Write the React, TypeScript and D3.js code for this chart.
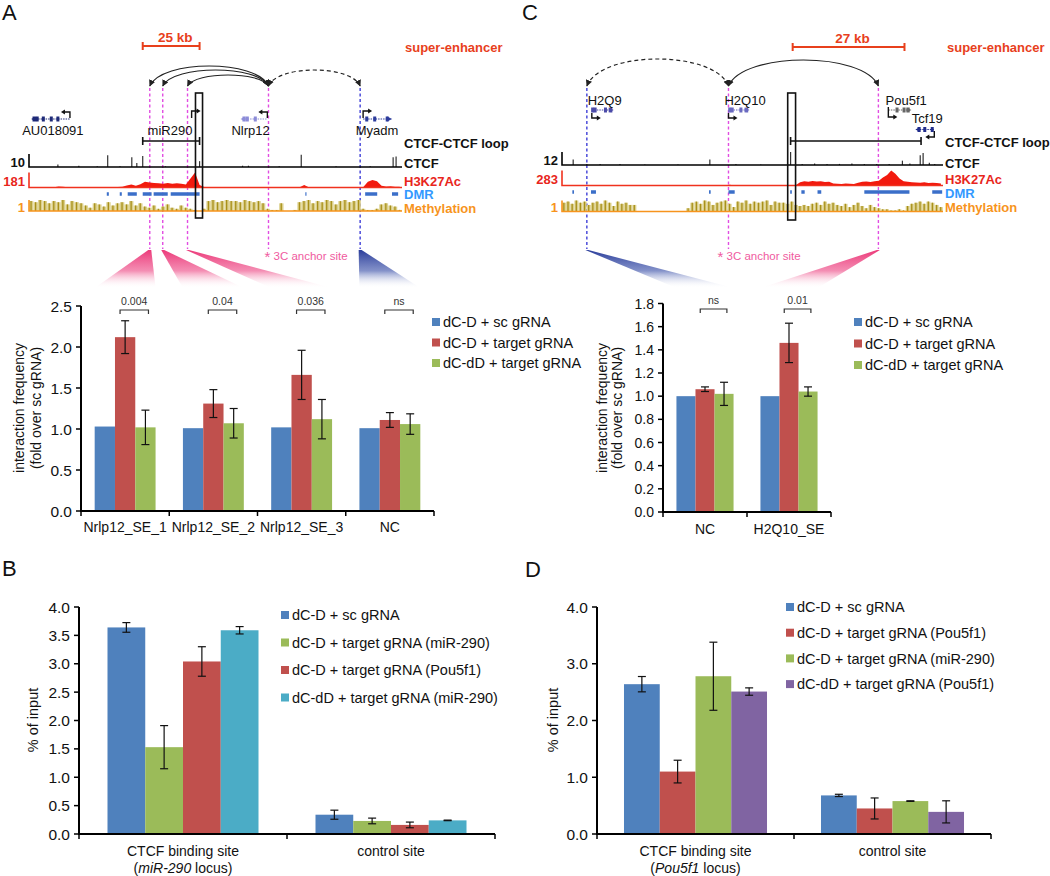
import React from 'react';
import * as d3 from 'd3';

const FONT = '"Liberation Sans", Arial, Helvetica, sans-serif';

const BLUE = '#4F81BD';
const RED = '#C0504D';
const GREEN = '#9BBB59';
const CYAN = '#4BACC6';
const PURPLE = '#8064A2';
const SE_RED = '#E8401C';
const PINK = '#E24CE2';
const NC_BLUE = '#3F3FD8';

// ---------------- panel A : miR290 / Nlrp12 locus (kb from left edge of browser window)
const aSpanKb = 164;
const aScaleKb = [50, 75];
const aAnchorKb = 105.3;
const aTargetKb = [53.1, 58.8, 69.7];
const aNcKb = 145.6;
const aCtcfSiteKb = [73.2, 76.3];
const aLoopKb = [50, 75];
const aGeneName = ['AU018091', 'miR290', 'Nlrp12', 'Myadm'];
const aGeneStart = [1.8, 71.5, 93.9, 146.9];
const aGeneEnd = [18.0, 71.5, 104.8, 158.8];
const aGeneStrand = [-1, 1, -1, 1];
const aGeneLabelKb = [10.5, 62, 97.4, 153];
const aGeneExons = [[2.2, 3.6, 6.3, 9.8, 12.7], [], [94.5, 96, 99.5], [148.5, 152, 157.5]];
const aCtcfKb = [12.7, 21.9, 30, 34.6, 40, 45.2, 47.4, 50, 60, 75, 93.9, 96.5, 110, 119.7, 135, 150, 160.1, 161.4];
const aCtcfVal = [2, 1, 0.5, 9, 0.5, 7.5, 3, 8.5, 0.5, 4.5, 1, 1, 0.5, 9.5, 0.5, 0.5, 7.5, 8];
const aH3 = [
  2, 2, 3, 2, 2, 3, 12, 10, 3, 2, 2, 3, 2, 2, 3, 2, 3, 4, 3, 5, 8,
  25, 35, 20, 40, 70, 60, 55, 50, 45, 55, 45, 50, 45, 35, 110, 181, 30, 5,
  3, 2, 3, 2, 2, 3, 2, 4, 3, 2, 2, 3, 2, 3, 2, 2, 3, 4, 2, 3, 4, 30,
  3, 2, 2, 3, 2, 2, 3, 2, 2, 3, 3, 4, 5, 70, 90, 75, 20, 12, 15, 10, 8,
];
const aDmrStart = [34.2, 39.9, 43.4, 50.0, 54.8, 62.3, 121.5, 147.8, 159.6];
const aDmrEnd = [35.1, 40.8, 47.4, 53.9, 61.0, 75.0, 122.0, 153.1, 162.3];
const aMeth = [
  9, 8, 10, 9, 7, 9, 8, 10, 6, 9, 8, 7, 5, 3, 7, 6, 4, 8, 5, 7, 8, 6, 9, 5, 7, 4,
  3, 5, 2, 4, 6, 3, 2, 5, 3, 2, 1, 0, 2, 9, 10, 8, 9, 10, 9, 9, 8, 10, 9, 8, 9, 7,
  2, 1, 1, 7, 0, 0, 1, 8, 9, 10, 7, 9, 8, 10, 9, 6, 9, 10, 8, 9, 10, 2, 1, 1, 2, 6, 7, 5, 4, 1,
];

// ---------------- panel C : H2Q10 / Pou5f1 locus
const cSpanKb = 92;
const cScaleKb = [55.7, 82.7];
const cAnchorKb = 40.2;
const cNcKb = 6.0;
const cTargetKb = 76.4;
const cCtcfSiteKb = [54.5, 56.4];
const cLoopKb = [55.2, 86.7];
const cGeneName = ['H2Q9', 'H2Q10', 'Pou5f1', 'Tcf19'];
const cGeneStart = [7.2, 40.2, 78.8, 85.8];
const cGeneEnd = [12.0, 44.8, 83.9, 89.9];
const cGeneStrand = [1, 1, 1, -1];
const cGeneLabelKb = [10.3, 44.2, 83.1, 88.2];
const cGeneExons = [[7.4, 8.0, 10.5, 11.8], [40.5, 41.1, 43.2, 44.6], [80.9, 82.6, 83.6], [86.2, 87.6, 89.4]];
const cCtcfKb = [2.7, 6, 9.2, 14, 20, 28, 35.7, 42, 48, 55.2, 58, 61, 64, 67, 70, 73, 76, 79, 82.2, 84, 86.5, 87.2, 88.7, 90];
const cCtcfVal = [5, 1, 1, 1, 0.5, 0.5, 5, 1, 0.5, 12, 1, 1.5, 1, 1, 1.5, 1, 1, 1, 4, 1.5, 9, 11, 2, 1];
const cH3 = [
  3, 2, 2, 3, 4, 2, 3, 2, 2, 3, 2, 3, 2, 2, 4, 3, 2, 2, 3, 2,
  2, 3, 2, 2, 3, 2, 4, 3, 2, 2, 3, 2, 2, 3, 2, 5, 3, 2, 3, 4,
  12, 4, 3, 2, 3, 2, 3, 2, 3, 4, 3, 2, 3, 4, 5, 6,
  10, 60, 80, 70, 85, 75, 80, 65, 70, 40, 35, 30, 40, 35, 30, 50, 70, 75, 65, 80,
  90, 150, 200, 283, 220, 130, 80, 70, 60, 55, 50, 60, 45, 50, 45, 40,
];
const cDmrStart = [2.5, 7.0, 35.5, 40.2, 55.1, 57.8, 61.7, 73.0, 89.4];
const cDmrEnd = [2.9, 8.2, 35.9, 41.7, 55.5, 58.6, 62.6, 83.9, 91.8];
const cMeth = [
  8, 9, 7, 10, 8, 9, 6, 8, 9, 7, 10, 8, 5, 9, 7, 8, 6, 6,
  0, 0, 0, 0, 0, 0, 0, 0, 0, 0, 0, 0, 3,
  8, 9, 7, 10, 9, 6, 8, 9, 10, 7, 4, 9, 8, 10, 7, 9, 8, 9, 10, 6, 9, 8,
  8, 7, 9, 6, 5, 6, 5, 7, 8, 6, 9, 7, 8, 6, 5, 7, 4, 6, 8, 5, 3, 6, 4,
  3, 2, 2, 1, 1, 2, 1, 5, 7, 8, 9, 7, 9, 8, 6, 4,
];

// ---------------- 3C bar charts
const a3cSites = ['Nrlp12_SE_1', 'Nrlp12_SE_2', 'Nrlp12_SE_3', 'NC'];
const a3cScMean = [1.03, 1.01, 1.02, 1.01];
const a3cTgtMean = [2.12, 1.31, 1.66, 1.11];
const a3cTgtErr = [0.2, 0.17, 0.3, 0.09];
const a3cDeadMean = [1.02, 1.07, 1.12, 1.06];
const a3cDeadErr = [0.21, 0.18, 0.24, 0.125];
const a3cPval = ['0.004', '0.04', '0.036', 'ns'];

const c3cSites = ['NC', 'H2Q10_SE'];
const c3cScMean = [1.0, 1.0];
const c3cTgtMean = [1.06, 1.46];
const c3cTgtErr = [0.02, 0.17];
const c3cDeadMean = [1.02, 1.04];
const c3cDeadErr = [0.1, 0.04];
const c3cPval = ['ns', '0.01'];

const series3c = ['dC-D + sc gRNA', 'dC-D + target gRNA', 'dC-dD + target gRNA'];

// ---------------- ChIP bar charts
const chipSites = ['CTCF binding site', 'control site'];
const bLocus = 'miR-290';
const dLocus = 'Pou5f1';
const bNames = ['dC-D + sc gRNA', 'dC-D + target gRNA (miR-290)', 'dC-D + target gRNA (Pou5f1)', 'dC-dD + target gRNA (miR-290)'];
const bScMean = [3.64, 0.34];
const bScErr = [0.085, 0.08];
const bMirMean = [1.53, 0.23];
const bMirErr = [0.38, 0.05];
const bPouMean = [3.04, 0.16];
const bPouErr = [0.26, 0.05];
const bDeadMean = [3.59, 0.24];
const bDeadErr = [0.065, 0.005];

const dNames = ['dC-D + sc gRNA', 'dC-D + target gRNA (Pou5f1)', 'dC-D + target gRNA (miR-290)', 'dC-dD + target gRNA (Pou5f1)'];
const dScMean = [2.64, 0.68];
const dScErr = [0.135, 0.02];
const dPouMean = [1.1, 0.45];
const dPouErr = [0.2, 0.185];
const dMirMean = [2.78, 0.58];
const dMirErr = [0.6, 0.005];
const dDeadMean = [2.51, 0.39];
const dDeadErr = [0.065, 0.195];

type Series = { name: string; color: string; mean: number[]; err?: number[] };

function groupSpan(xs: d3.ScaleBand<string>, cat: string, frac: number) {
  const bw = xs.bandwidth();
  const l = xs(cat)! + (bw * (1 - frac)) / 2;
  return [l, l + bw * frac];
}

function BarPanel(p: {
  xs: d3.ScaleBand<string>; ys: d3.ScaleLinear<number, number>; step: number; series: Series[];
  frac: number; yTitle: string[]; yTitleX: number[]; yTitleY: number; tickFont: number;
  legX: number; legY: number; legDy: number; labelY: number;
  pval?: string[]; bracketY?: number; locus?: string;
}) {
  const { xs, ys, series } = p;
  const cats = xs.domain();
  const [x0, x1] = xs.range();
  const yb = ys.range()[0];
  const yMax = ys.domain()[1];
  const n = series.length;
  const barW = (xs.bandwidth() * p.frac) / n;
  const ticks = d3.range(0, yMax + p.step / 2, p.step);
  const fmt = d3.format('.1f');
  const bounds = d3.range(cats.length + 1).map(i => x0 + i * xs.step());
  return (
    <g>
      {cats.map((c, i) => {
        const gl = groupSpan(xs, c, p.frac)[0];
        return series.map((s, j) => {
          const bx = gl + j * barW;
          const v = s.mean[i];
          const cx = bx + barW / 2;
          return (
            <g key={c + j}>
              <rect x={bx} y={ys(v)} width={barW} height={yb - ys(v)} fill={s.color} />
              {s.err && (
                <g stroke="#111" strokeWidth={1.2}>
                  <line x1={cx} x2={cx} y1={ys(v - s.err[i])} y2={ys(v + s.err[i])} />
                  <line x1={cx - 4} x2={cx + 4} y1={ys(v - s.err[i])} y2={ys(v - s.err[i])} />
                  <line x1={cx - 4} x2={cx + 4} y1={ys(v + s.err[i])} y2={ys(v + s.err[i])} />
                </g>
              )}
            </g>
          );
        });
      })}
      {p.pval && cats.map((c, i) => {
        const gl = groupSpan(xs, c, p.frac)[0];
        const l = gl + barW * 1.25;
        const r = gl + barW * 2.65;
        const by = p.bracketY!;
        return (
          <g key={'pv' + c}>
            <path d={`M${l},${by + 4}V${by}H${r}V${by + 4}`} fill="none" stroke="#333" strokeWidth={1.2} />
            <text x={(l + r) / 2} y={by - 5} textAnchor="middle" fontSize={10.5} fill="#333">{p.pval![i]}</text>
          </g>
        );
      })}
      {/* axes */}
      <line x1={x0} x2={x0} y1={yb} y2={ys(yMax)} stroke="#000" strokeWidth={2} />
      <line x1={x0 - 1} x2={x1} y1={yb} y2={yb} stroke="#000" strokeWidth={2} />
      {ticks.map(t => (
        <g key={'t' + t}>
          <line x1={x0 - 5} x2={x0} y1={ys(t)} y2={ys(t)} stroke="#000" strokeWidth={1.5} />
          <text x={x0 - 9} y={ys(t)} dy="0.36em" textAnchor="end" fontSize={p.tickFont} fill="#111">{fmt(t)}</text>
        </g>
      ))}
      {bounds.map((b, i) => (
        <line key={'b' + i} x1={b} x2={b} y1={yb} y2={yb + 5} stroke="#000" strokeWidth={1.5} />
      ))}
      {cats.map(c => (
        <g key={'l' + c}>
          <text x={xs(c)! + xs.bandwidth() / 2} y={p.labelY} textAnchor="middle" fontSize={14} fill="#111">{c}</text>
          {p.locus && c === cats[0] && (
            <text x={xs(c)! + xs.bandwidth() / 2} y={p.labelY + 17} textAnchor="middle" fontSize={14} fill="#111">
              (<tspan fontStyle="italic">{p.locus}</tspan> locus)
            </text>
          )}
        </g>
      ))}
      {p.yTitle.map((t, i) => (
        <text key={t} transform={`translate(${p.yTitleX[i]},${p.yTitleY}) rotate(-90)`} dy="0.35em"
          textAnchor="middle" fontSize={p.yTitle.length > 1 ? 14 : 14.5} fill="#111">{t}</text>
      ))}
      {series.map((s, j) => (
        <g key={'lg' + j}>
          <rect x={p.legX} y={p.legY + j * p.legDy - 4} width={8} height={8} fill={s.color} />
          <text x={p.legX + 11} y={p.legY + j * p.legDy} dy="0.36em" fontSize={14.5} fill="#111">{s.name}</text>
        </g>
      ))}
    </g>
  );
}

type GeneRow = { y: number; labelY: number; a0: number; a1: number; color: string };

function Genes(p: {
  xs: d3.ScaleLinear<number, number>; names: string[]; start: number[]; end: number[];
  strand: number[]; labelKb: number[]; exons: number[][]; rows: GeneRow[];
}) {
  const { xs } = p;
  return (
    <g>
      {p.names.map((nm, i) => {
        const row = p.rows[i];
        const dir = p.strand[i];
        const tx = xs(dir > 0 ? p.start[i] : p.end[i]);
        const ex = xs(dir > 0 ? p.end[i] : p.start[i]);
        const hasBody = p.end[i] > p.start[i];
        return (
          <g key={nm}>
            {hasBody && (
              <g>
                <line x1={xs(p.start[i])} x2={xs(p.end[i])} y1={row.y} y2={row.y} stroke={row.color} strokeWidth={1} strokeDasharray="1.5,1" />
                {p.exons[i].map(e => (
                  <rect key={e} x={xs(e) - 1.5} y={row.y - 2.5} width={3} height={5} fill={row.color} />
                ))}
                <path d={`M${ex + dir * 2},${row.y} L${ex - dir * 3},${row.y - 2.5} L${ex - dir * 3},${row.y + 2.5}Z`} fill={row.color} />
              </g>
            )}
            <path d={`M${tx},${row.a0}V${row.a1}H${tx + dir * 6}`} fill="none" stroke="#111" strokeWidth={1.4} />
            <path d={`M${tx + dir * 9},${row.a1} L${tx + dir * 5},${row.a1 - 2.5} L${tx + dir * 5},${row.a1 + 2.5}Z`} fill="#111" />
            <text x={xs(p.labelKb[i])} y={row.labelY} textAnchor="middle" fontSize={13} fill="#111">{nm}</text>
          </g>
        );
      })}
    </g>
  );
}

function Tracks(p: {
  xs: d3.ScaleLinear<number, number>; labelX: number;
  ctcfKb: number[]; ctcfVal: number[]; ctcfMax: number; ctcfBase: number;
  h3: number[]; h3Bin: number; h3Max: number; h3Base: number;
  dmrStart: number[]; dmrEnd: number[]; dmrY: number;
  meth: number[]; methBin: number; methBase: number;
  loopKb: number[]; loopY: number; labelYs: number[];
}) {
  const { xs } = p;
  const [x0, x1] = xs.range();
  const cy = d3.scaleLinear().domain([0, p.ctcfMax]).range([p.ctcfBase, p.ctcfBase - 13]);
  const hy = d3.scaleLinear().domain([0, p.h3Max]).range([p.h3Base, p.h3Base - 15]);
  const my = d3.scaleLinear().domain([0, 10]).range([p.methBase, p.methBase - 11]);
  const area = d3.area<number>()
    .x((d, i) => xs((i + 0.5) * p.h3Bin))
    .y0(p.h3Base)
    .y1(d => hy(d));
  const mw = xs(p.methBin) - xs(0);
  const lab = { fontSize: 13, fontWeight: 700 } as const;
  return (
    <g>
      {/* CTCF-CTCF loop */}
      <path d={`M${xs(p.loopKb[0])},${p.loopY - 4}v8M${xs(p.loopKb[0])},${p.loopY}H${xs(p.loopKb[1])}M${xs(p.loopKb[1])},${p.loopY - 4}v8`}
        fill="none" stroke="#111" strokeWidth={1.6} />
      {/* CTCF */}
      {p.ctcfKb.map((k, i) => (
        <line key={'c' + i} x1={xs(k)} x2={xs(k)} y1={p.ctcfBase} y2={cy(p.ctcfVal[i])} stroke="#333" strokeWidth={1.2} />
      ))}
      <path d={`M${x0},${cy(p.ctcfMax)}V${p.ctcfBase}H${x1}`} fill="none" stroke="#000" strokeWidth={1.6} />
      {/* H3K27Ac */}
      <path d={area(p.h3) ?? ''} fill="#F21A0E" />
      <path d={`M${x0},${hy(p.h3Max)}V${p.h3Base}H${x1}`} fill="none" stroke="#F0321E" strokeWidth={1.6} />
      {/* DMR */}
      {p.dmrStart.map((s, i) => (
        <rect key={'d' + i} x={xs(s)} y={p.dmrY - 1.75} width={Math.max(1, xs(p.dmrEnd[i]) - xs(s))} height={3.5} fill="#3B6FC9" />
      ))}
      {/* Methylation */}
      {p.meth.map((v, i) => (
        <g key={'m' + i}>
          <rect x={xs(i * p.methBin)} y={my(v)} width={mw * 0.95} height={p.methBase - my(v)} fill="#DCD08C" />
          <line x1={xs(i * p.methBin) + mw * 0.45} x2={xs(i * p.methBin) + mw * 0.45} y1={p.methBase} y2={my(v)}
            stroke="#A8901A" strokeWidth={1.3} />
        </g>
      ))}
      <path d={`M${x0},${my(10)}V${p.methBase}H${x1}`} fill="none" stroke="#F7941D" strokeWidth={1.6} />
      {/* left scale numbers */}
      <text x={x0 - 4} y={p.ctcfBase - 5} dy="0.36em" textAnchor="end" {...lab} fill="#111">{p.ctcfMax}</text>
      <text x={x0 - 4} y={p.h3Base - 6} dy="0.36em" textAnchor="end" {...lab} fill="#E8261C">{p.h3Max}</text>
      <text x={x0 - 4} y={p.methBase - 4} dy="0.36em" textAnchor="end" {...lab} fill="#F7941D">1</text>
      {/* right labels */}
      <text x={p.labelX} y={p.labelYs[0]} dy="0.36em" {...lab} fill="#111">CTCF-CTCF loop</text>
      <text x={p.labelX} y={p.labelYs[1]} dy="0.36em" {...lab} fill="#111">CTCF</text>
      <text x={p.labelX} y={p.labelYs[2]} dy="0.36em" {...lab} fill="#E8261C">H3K27Ac</text>
      <text x={p.labelX} y={p.labelYs[3]} dy="0.36em" {...lab} fill="#3399FF">DMR</text>
      <text x={p.labelX} y={p.labelYs[4]} dy="0.36em" {...lab} fill="#F7941D">Methylation</text>
    </g>
  );
}

function arcPath(xa: number, xb: number, y: number, top: number) {
  const c = y + (top - y) / 0.75;
  const dx = (xb - xa) * 0.1;
  return `M${xa},${y} C${xa + dx},${c} ${xb - dx},${c} ${xb},${y}`;
}

function ScaleBar({ x0, x1, y, label }: { x0: number; x1: number; y: number; label: string }) {
  return (
    <g>
      <path d={`M${x0},${y - 4}v8M${x0},${y}H${x1}M${x1},${y - 4}v8`} fill="none" stroke={SE_RED} strokeWidth={2} />
      <text x={(x0 + x1) / 2 + 4} y={y - 4} textAnchor="middle" fontSize={13.5} fontWeight={700} fill={SE_RED}>{label}</text>
    </g>
  );
}

function VLine({ x, color }: { x: number; color: string }) {
  return <line x1={x} x2={x} y1={88} y2={249} stroke={color} strokeWidth={1.4} strokeDasharray="3,2.5" />;
}

function AnchorText({ x }: { x: number }) {
  return (
    <text x={x} y={260} fontSize={11.5} fill="#F05AA0">
      <tspan fontSize={15} dy="2">*</tspan><tspan dy="-2"> 3C anchor site</tspan>
    </text>
  );
}

function Fan({ apex, span, grad }: { apex: number; span: number[]; grad: string }) {
  return <polygon points={`${apex - 1.5},250 ${apex + 1.5},250 ${span[1]},288 ${span[0]},288`} fill={`url(#${grad})`} />;
}

export default function App() {
  const aKb = d3.scaleLinear().domain([0, aSpanKb]).range([29, 402]);
  const cKb = d3.scaleLinear().domain([0, cSpanKb]).range([562, 943]);

  const aX = d3.scaleBand<string>().domain(a3cSites).range([81, 434]);
  const aY = d3.scaleLinear().domain([0, 2.5]).range([511, 306]);
  const cX = d3.scaleBand<string>().domain(c3cSites).range([663, 831]);
  const cY = d3.scaleLinear().domain([0, 1.8]).range([512, 303.5]);
  const bX = d3.scaleBand<string>().domain(chipSites).range([79, 495]);
  const bY = d3.scaleLinear().domain([0, 4]).range([834, 607]);
  const dX = d3.scaleBand<string>().domain(chipSites).range([597, 991]);
  const dY = d3.scaleLinear().domain([0, 4]).range([834, 607]);

  const aFrac = 0.69, cFrac = 0.68, chipFrac = 0.726;

  const aRows: GeneRow[] = [
    { y: 119, labelY: 134.5, a0: 118, a1: 112, color: '#1E2A78' },
    { y: 119, labelY: 134.5, a0: 118, a1: 111, color: '#1E2A78' },
    { y: 119, labelY: 134.5, a0: 118, a1: 112, color: '#8C8CD8' },
    { y: 119, labelY: 134.5, a0: 118, a1: 111, color: '#2D3C9C' },
  ];
  const cRows: GeneRow[] = [
    { y: 110, labelY: 104.5, a0: 113, a1: 118, color: '#4B4BA8' },
    { y: 110, labelY: 104.5, a0: 113, a1: 118, color: '#6A6AC0' },
    { y: 110, labelY: 104.5, a0: 107, a1: 117, color: '#666' },
    { y: 129.5, labelY: 122.5, a0: 131, a1: 137, color: '#202C8C' },
  ];

  const aTargetX = aTargetKb.map(k => aKb(k));
  const arcY = 86;

  return (
    <svg width={1050} height={876} style={{ position: 'absolute', left: 0, top: 0, background: '#fff' }}
      fontFamily={FONT}>
      <defs>
        <marker id="ah" viewBox="0 0 10 10" refX="9" refY="5" markerWidth="5.5" markerHeight="5.5" orient="auto-start-reverse">
          <path d="M0,0 L10,5 L0,10 z" fill="#222" />
        </marker>
        <linearGradient id="pinkFan" x1="0" y1="0" x2="0" y2="1">
          <stop offset="0" stopColor="#EC3A7A" />
          <stop offset="0.55" stopColor="#F27AA6" stopOpacity="0.85" />
          <stop offset="1" stopColor="#FFFFFF" stopOpacity="0" />
        </linearGradient>
        <linearGradient id="blueFan" x1="0" y1="0" x2="0" y2="1">
          <stop offset="0" stopColor="#2B3E9B" />
          <stop offset="0.55" stopColor="#6F7FC0" stopOpacity="0.85" />
          <stop offset="1" stopColor="#FFFFFF" stopOpacity="0" />
        </linearGradient>
      </defs>

      {/* panel letters */}
      <text x={2} y={19.5} fontSize={22} fill="#111">A</text>
      <text x={522} y={19.5} fontSize={22} fill="#111">C</text>
      <text x={2} y={576} fontSize={22} fill="#111">B</text>
      <text x={525} y={577} fontSize={22} fill="#111">D</text>

      {/* ---------- panel A locus ---------- */}
      <ScaleBar x0={aKb(aScaleKb[0])} x1={aKb(aScaleKb[1])} y={46} label="25 kb" />
      <text x={405} y={51.5} fontSize={13} fontWeight={700} fill={SE_RED}>super-enhancer</text>
      {aTargetX.map((tx, i) => (
        <path key={'arc' + i} d={arcPath(aKb(aAnchorKb), tx, arcY, [75, 70, 66][2 - i])} fill="none" stroke="#222" strokeWidth={1.2}
          markerEnd="url(#ah)" markerStart="url(#ah)" />
      ))}
      <path d={arcPath(aKb(aAnchorKb), aKb(aNcKb), arcY, 70)} fill="none" stroke="#222" strokeWidth={1.2} strokeDasharray="4,3"
        markerEnd="url(#ah)" markerStart="url(#ah)" />
      {aTargetX.map((tx, i) => <VLine key={'vl' + i} x={tx} color={PINK} />)}
      <VLine x={aKb(aAnchorKb)} color={PINK} />
      <VLine x={aKb(aNcKb)} color={NC_BLUE} />
      <Genes xs={aKb} names={aGeneName} start={aGeneStart} end={aGeneEnd} strand={aGeneStrand}
        labelKb={aGeneLabelKb} exons={aGeneExons} rows={aRows} />
      <Tracks xs={aKb} labelX={404} ctcfKb={aCtcfKb} ctcfVal={aCtcfVal} ctcfMax={10} ctcfBase={167}
        h3={aH3} h3Bin={2} h3Max={181} h3Base={187.5} dmrStart={aDmrStart} dmrEnd={aDmrEnd} dmrY={194}
        meth={aMeth} methBin={2} methBase={211} loopKb={aLoopKb} loopY={141} labelYs={[143, 163, 181, 194.5, 208]} />
      <rect x={aKb(aCtcfSiteKb[0])} y={93} width={aKb(aCtcfSiteKb[1]) - aKb(aCtcfSiteKb[0])} height={125}
        fill="none" stroke="#111" strokeWidth={1.6} />
      <AnchorText x={aKb(aAnchorKb) - 4} />
      {aTargetX.map((tx, i) => (
        <Fan key={'fan' + i} apex={tx} span={groupSpan(aX, a3cSites[i], aFrac)} grad="pinkFan" />
      ))}
      <Fan apex={aKb(aNcKb)} span={groupSpan(aX, 'NC', aFrac)} grad="blueFan" />

      {/* ---------- panel C locus ---------- */}
      <ScaleBar x0={cKb(cScaleKb[0])} x1={cKb(cScaleKb[1])} y={47} label="27 kb" />
      <text x={947} y={51.5} fontSize={13} fontWeight={700} fill={SE_RED}>super-enhancer</text>
      <path d={arcPath(cKb(cNcKb), cKb(cAnchorKb), arcY, 59)} fill="none" stroke="#222" strokeWidth={1.2} strokeDasharray="4,3"
        markerEnd="url(#ah)" markerStart="url(#ah)" />
      <path d={arcPath(cKb(cAnchorKb), cKb(cTargetKb), arcY, 60)} fill="none" stroke="#222" strokeWidth={1.2}
        markerEnd="url(#ah)" markerStart="url(#ah)" />
      <VLine x={cKb(cNcKb)} color={NC_BLUE} />
      <VLine x={cKb(cAnchorKb)} color={PINK} />
      <VLine x={cKb(cTargetKb)} color={PINK} />
      <Genes xs={cKb} names={cGeneName} start={cGeneStart} end={cGeneEnd} strand={cGeneStrand}
        labelKb={cGeneLabelKb} exons={cGeneExons} rows={cRows} />
      <Tracks xs={cKb} labelX={945} ctcfKb={cCtcfKb} ctcfVal={cCtcfVal} ctcfMax={12} ctcfBase={165}
        h3={cH3} h3Bin={1} h3Max={283} h3Base={185.5} dmrStart={cDmrStart} dmrEnd={cDmrEnd} dmrY={192}
        meth={cMeth} methBin={1} methBase={211.5} loopKb={cLoopKb} loopY={141} labelYs={[142, 163, 179.5, 193, 207.5]} />
      <rect x={cKb(cCtcfSiteKb[0])} y={93} width={cKb(cCtcfSiteKb[1]) - cKb(cCtcfSiteKb[0])} height={127}
        fill="none" stroke="#111" strokeWidth={1.6} />
      <AnchorText x={cKb(cAnchorKb) - 11} />
      <Fan apex={cKb(cNcKb)} span={groupSpan(cX, 'NC', cFrac)} grad="blueFan" />
      <Fan apex={cKb(cTargetKb)} span={groupSpan(cX, 'H2Q10_SE', cFrac)} grad="pinkFan" />

      {/* ---------- 3C bar charts ---------- */}
      <BarPanel xs={aX} ys={aY} step={0.5} frac={aFrac} tickFont={15.5}
        series={[
          { name: series3c[0], color: BLUE, mean: a3cScMean },
          { name: series3c[1], color: RED, mean: a3cTgtMean, err: a3cTgtErr },
          { name: series3c[2], color: GREEN, mean: a3cDeadMean, err: a3cDeadErr },
        ]}
        yTitle={['interaction frequency', '(fold over sc gRNA)']} yTitleX={[19, 36]} yTitleY={408}
        legX={432} legY={322} legDy={20.5} labelY={532} pval={a3cPval} bracketY={310} />
      <BarPanel xs={cX} ys={cY} step={0.2} frac={cFrac} tickFont={14}
        series={[
          { name: series3c[0], color: BLUE, mean: c3cScMean },
          { name: series3c[1], color: RED, mean: c3cTgtMean, err: c3cTgtErr },
          { name: series3c[2], color: GREEN, mean: c3cDeadMean, err: c3cDeadErr },
        ]}
        yTitle={['interaction frequency', '(fold over sc gRNA)']} yTitleX={[602, 617]} yTitleY={408}
        legX={854} legY={322} legDy={21.5} labelY={534} pval={c3cPval} bracketY={309} />

      {/* ---------- ChIP bar charts ---------- */}
      <BarPanel xs={bX} ys={bY} step={0.5} frac={chipFrac} tickFont={15.5}
        series={[
          { name: bNames[0], color: BLUE, mean: bScMean, err: bScErr },
          { name: bNames[1], color: GREEN, mean: bMirMean, err: bMirErr },
          { name: bNames[2], color: RED, mean: bPouMean, err: bPouErr },
          { name: bNames[3], color: CYAN, mean: bDeadMean, err: bDeadErr },
        ]}
        yTitle={['% of input']} yTitleX={[33]} yTitleY={720}
        legX={281} legY={615} legDy={27.5} labelY={856} locus={bLocus} />
      <BarPanel xs={dX} ys={dY} step={1} frac={chipFrac} tickFont={15.5}
        series={[
          { name: dNames[0], color: BLUE, mean: dScMean, err: dScErr },
          { name: dNames[1], color: RED, mean: dPouMean, err: dPouErr },
          { name: dNames[2], color: GREEN, mean: dMirMean, err: dMirErr },
          { name: dNames[3], color: PURPLE, mean: dDeadMean, err: dDeadErr },
        ]}
        yTitle={['% of input']} yTitleX={[553]} yTitleY={720}
        legX={786} legY={607} legDy={25.7} labelY={856} locus={dLocus} />
    </svg>
  );
}
